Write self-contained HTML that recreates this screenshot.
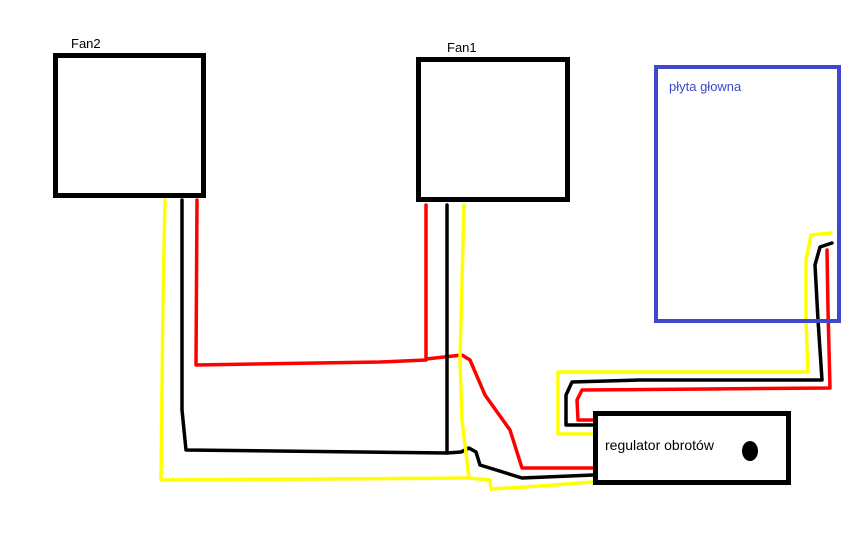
<!DOCTYPE html>
<html><head><meta charset="utf-8"><style>
html,body{margin:0;padding:0;background:#fff}
svg{display:block}
text{font-family:"Liberation Sans",sans-serif;font-size:13px}
</style></head><body>
<svg width="864" height="540" viewBox="0 0 864 540" xmlns="http://www.w3.org/2000/svg">
<rect width="864" height="540" fill="#fff"/>
<g fill="none" stroke-linejoin="round" stroke-linecap="round" stroke-width="3.5">
<polyline stroke="#ffff00" points="165,200 163,300 161,480 470,478"/>
<polyline stroke="#ff0000" points="197,200 196,365 380,362 426,360 426,205"/>
<polyline stroke="#ff0000" points="426,359 462,355 470,360 485,395 510,430 522,468 593,468"/>
<polyline stroke="#000" points="182,200 182,410 186,450 447,453"/>
<polyline stroke="#000" points="447,205 447,453 461,452 469,448 476,452 480,465 522,478 593,475"/>
<polyline stroke="#ffff00" points="464,205 460,360 462,420 469,478 490,480 491,489 540,486 593,482"/>
<polyline stroke="#ffff00" points="831,233 811,235 806,260 806,320 808,372 558,372 558,434 593,434"/>
<polyline stroke="#000" points="832,243 820,247 815,265 818,320 822,380 640,380 572,382 566,395 566,425 593,425"/>
<polyline stroke="#ff0000" points="827,250 828,310 830,388 582,390 577,400 578,420 593,420"/>
</g>
<rect x="55.5" y="55.5" width="148" height="140" fill="none" stroke="#000" stroke-width="5"/>
<rect x="418.5" y="59.5" width="149" height="140" fill="none" stroke="#000" stroke-width="5"/>
<rect x="656" y="67" width="183" height="254" fill="none" stroke="#3f48cc" stroke-width="4"/>
<rect x="595.5" y="413.5" width="193" height="69" fill="#fff" stroke="#000" stroke-width="5"/>
<ellipse cx="750" cy="451" rx="8" ry="10" fill="#000"/>
<text x="71" y="48">Fan2</text>
<text x="447" y="52">Fan1</text>
<text x="669" y="91" fill="#3f48cc">płyta głowna</text>
<text x="605" y="450" style="font-size:14px">regulator obrotów</text>
</svg>
</body></html>
